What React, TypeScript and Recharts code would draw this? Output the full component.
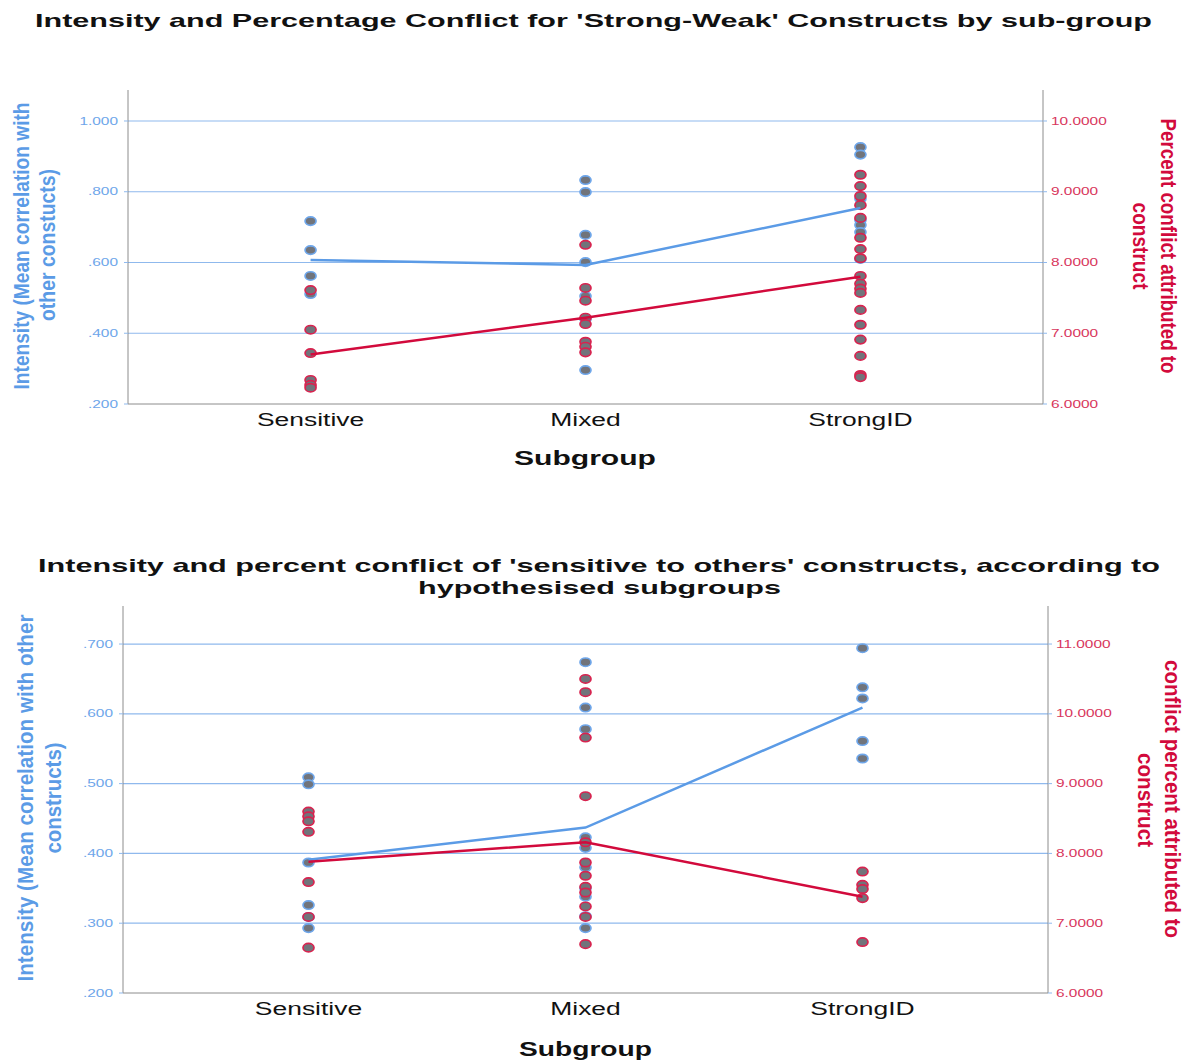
import { ScatterChart, Scatter, XAxis, YAxis, ReferenceLine } from 'recharts'

const categories = ['Sensitive', 'Mixed', 'StrongID']

// 'Strong-Weak' constructs
const swIntensity = [
  [0.717, 0.635, 0.562, 0.511],
  [0.833, 0.799, 0.678, 0.601, 0.505, 0.44, 0.296],
  [0.926, 0.905, 0.78, 0.72, 0.706, 0.686, 0.61],
]
const swIntensityMean = [0.607, 0.593, 0.754]
const swPercent = [
  [7.61, 7.05, 6.72, 6.34, 6.27, 6.23],
  [8.25, 7.64, 7.46, 7.22, 7.13, 6.88, 6.81, 6.73],
  [9.24, 9.08, 8.94, 8.81, 8.63, 8.35, 8.19, 8.06, 7.81, 7.7, 7.63, 7.57, 7.33, 7.12, 6.91, 6.68, 6.41, 6.38],
]
const swPercentMean = [6.7, 7.22, 7.8]

// 'sensitive to others' constructs
const stoIntensity = [
  [0.509, 0.499, 0.387, 0.326, 0.309, 0.293],
  [0.674, 0.609, 0.578, 0.423, 0.408, 0.38, 0.35, 0.338, 0.31, 0.293],
  [0.694, 0.638, 0.622, 0.561, 0.536],
]
const stoIntensityMean = [0.391, 0.437, 0.609]
const stoPercent = [
  [8.6, 8.53, 8.46, 8.31, 7.59, 7.09, 6.65],
  [10.5, 10.31, 9.66, 8.82, 8.16, 7.87, 7.68, 7.52, 7.44, 7.24, 7.09, 6.7],
  [7.74, 7.55, 7.49, 7.36, 6.73],
]
const stoPercentMean = [7.88, 8.16, 7.38]

const swLeftTicks = [0.2, 0.4, 0.6, 0.8, 1.0]
const swRightTicks = [6, 7, 8, 9, 10]
const stoLeftTicks = [0.2, 0.3, 0.4, 0.5, 0.6, 0.7]
const stoRightTicks = [6, 7, 8, 9, 10, 11]

const BLUE = '#5b9be6'
const RED = '#d20a3c'
const GRID = '#8fb9ed'
const AXIS = '#8c8c8c'
const FONT = '"Liberation Sans", Arial, sans-serif'
const STRETCH = 1.47

const toPoints = (groups: number[][]) =>
  groups.flatMap((vals, i) => vals.map((v) => ({ x: i + 1, y: v })))
const toMeans = (vals: number[]) => vals.map((v, i) => ({ x: i + 1, y: v }))

const fmtLeft = (v: number) => (v >= 1 ? v.toFixed(3) : v.toFixed(3).replace(/^0/, ''))
const fmtRight = (v: number) => v.toFixed(4)

function dot(stroke: string) {
  return (props: any) => (
    <ellipse cx={props.cx} cy={props.cy} rx={5.5} ry={4.2} fill="#71747b" stroke={stroke} strokeWidth={1.7} />
  )
}

const noDot = () => <g />

function ValueTick({ x, y, payload, side }: any) {
  const left = side === 'left'
  return (
    <g transform={`translate(${x},${y})`}>
      <text
        transform={`scale(${STRETCH},1)`}
        textAnchor={left ? 'end' : 'start'}
        dominantBaseline="central"
        fontSize={10.5}
        fontFamily={FONT}
        fill={left ? '#6ea6ea' : '#d8365c'}
      >
        {left ? fmtLeft(payload.value) : fmtRight(payload.value)}
      </text>
    </g>
  )
}

function CatTick({ x, y, payload }: any) {
  return (
    <g transform={`translate(${x},${y + 8})`}>
      <text
        transform={`scale(${STRETCH},1)`}
        textAnchor="middle"
        dominantBaseline="central"
        fontSize={18}
        fontFamily={FONT}
        fill="#111"
      >
        {categories[payload.value - 1]}
      </text>
    </g>
  )
}

interface PanelProps {
  top: number
  height: number
  margin: { top: number; left: number; right: number; bottom: number }
  xDomain: [number, number]
  leftDomain: [number, number]
  rightDomain: [number, number]
  leftTicks: number[]
  rightTicks: number[]
  intensity: number[][]
  intensityMean: number[]
  percent: number[][]
  percentMean: number[]
}

function Panel(p: PanelProps) {
  return (
    <div style={{ position: 'absolute', left: 0, top: p.top }}>
      <ScatterChart width={1189} height={p.height} margin={p.margin}>
        {p.leftTicks.slice(1).map((t) => (
          <ReferenceLine key={t} yAxisId="left" y={t} stroke={GRID} strokeWidth={1.2} />
        ))}
        <XAxis
          type="number"
          dataKey="x"
          domain={p.xDomain}
          ticks={[1, 2, 3]}
          height={30}
          tickLine={false}
          axisLine={{ stroke: AXIS }}
          tick={<CatTick />}
          interval={0}
        />
        <YAxis
          yAxisId="left"
          type="number"
          dataKey="y"
          domain={p.leftDomain}
          ticks={p.leftTicks}
          width={60}
          axisLine={{ stroke: AXIS }}
          tickLine={{ stroke: GRID }}
          tickSize={4}
          tickMargin={6}
          tick={<ValueTick side="left" />}
          interval={0}
        />
        <YAxis
          yAxisId="right"
          orientation="right"
          type="number"
          dataKey="y"
          domain={p.rightDomain}
          ticks={p.rightTicks}
          width={80}
          axisLine={{ stroke: AXIS }}
          tickLine={{ stroke: GRID }}
          tickSize={4}
          tickMargin={4}
          tick={<ValueTick side="right" />}
          interval={0}
        />
        <Scatter yAxisId="left" data={toPoints(p.intensity)} shape={dot('#6ea6ea')} isAnimationActive={false} />
        <Scatter yAxisId="right" data={toPoints(p.percent)} shape={dot('#d8234f')} isAnimationActive={false} />
        <Scatter
          yAxisId="left"
          data={toMeans(p.intensityMean)}
          line={{ stroke: BLUE, strokeWidth: 2.5 }}
          lineType="joint"
          shape={noDot}
          isAnimationActive={false}
        />
        <Scatter
          yAxisId="right"
          data={toMeans(p.percentMean)}
          line={{ stroke: RED, strokeWidth: 2.5 }}
          lineType="joint"
          shape={noDot}
          isAnimationActive={false}
        />
      </ScatterChart>
    </div>
  )
}

function HText({ x, y, len, size, bold, children }: any) {
  return (
    <text
      x={x}
      y={y}
      textAnchor="middle"
      dominantBaseline="central"
      fontSize={size}
      fontWeight={bold ? 'bold' : 'normal'}
      fontFamily={FONT}
      fill="#111"
      textLength={len}
      lengthAdjust="spacingAndGlyphs"
    >
      {children}
    </text>
  )
}

function VText({ x, y, len, rot, color, children }: any) {
  return (
    <g transform={`translate(${x},${y}) rotate(${rot}) scale(1,${STRETCH})`}>
      <text
        textAnchor="middle"
        dominantBaseline="central"
        fontSize={15.5}
        fontWeight="bold"
        fontFamily={FONT}
        fill={color}
        textLength={len}
        lengthAdjust="spacingAndGlyphs"
      >
        {children}
      </text>
    </g>
  )
}

export default function App() {
  return (
    <div style={{ position: 'absolute', left: 0, top: 0, width: 1189, height: 1061, background: '#fff' }}>
      <Panel
        top={0}
        height={500}
        margin={{ top: 90, left: 68, right: 66, bottom: 66 }}
        xDomain={[0.336, 3.664]}
        leftDomain={[0.2, 1.0876]}
        rightDomain={[6, 10.438]}
        leftTicks={swLeftTicks}
        rightTicks={swRightTicks}
        intensity={swIntensity}
        intensityMean={swIntensityMean}
        percent={swPercent}
        percentMean={swPercentMean}
      />
      <Panel
        top={500}
        height={561}
        margin={{ top: 106, left: 63, right: 61, bottom: 38 }}
        xDomain={[0.3303, 3.6697]}
        leftDomain={[0.2, 0.7545]}
        rightDomain={[6, 11.545]}
        leftTicks={stoLeftTicks}
        rightTicks={stoRightTicks}
        intensity={stoIntensity}
        intensityMean={stoIntensityMean}
        percent={stoPercent}
        percentMean={stoPercentMean}
      />
      <svg width={1189} height={1061} style={{ position: 'absolute', left: 0, top: 0, pointerEvents: 'none' }}>
        <HText x={593.5} y={20} len={1117} size={19} bold>
          Intensity and Percentage Conflict for 'Strong-Weak' Constructs by sub-group
        </HText>
        <HText x={585} y={458} len={142} size={20} bold>
          Subgroup
        </HText>
        <VText x={21} y={246} len={287} rot={-90} color={BLUE}>
          Intensity (Mean correlation with
        </VText>
        <VText x={47} y={245} len={152} rot={-90} color={BLUE}>
          other constucts)
        </VText>
        <VText x={1169} y={246} len={255} rot={90} color={RED}>
          Percent conflict attributed to
        </VText>
        <VText x={1141} y={246} len={87} rot={90} color={RED}>
          construct
        </VText>

        <HText x={599} y={565} len={1122} size={19} bold>
          Intensity and percent conflict of 'sensitive to others' constructs, according to
        </HText>
        <HText x={599.5} y={587} len={363} size={19} bold>
          hypothesised subgroups
        </HText>
        <HText x={585.5} y={1049} len={133} size={20} bold>
          Subgroup
        </HText>
        <VText x={25} y={798} len={367} rot={-90} color={BLUE}>
          Intensity (Mean correlation with other
        </VText>
        <VText x={53} y={798} len={111} rot={-90} color={BLUE}>
          constructs)
        </VText>
        <VText x={1173} y={799} len={278} rot={90} color={RED}>
          conflict percent attributed to
        </VText>
        <VText x={1146} y={800} len={94} rot={90} color={RED}>
          construct
        </VText>
      </svg>
    </div>
  )
}
